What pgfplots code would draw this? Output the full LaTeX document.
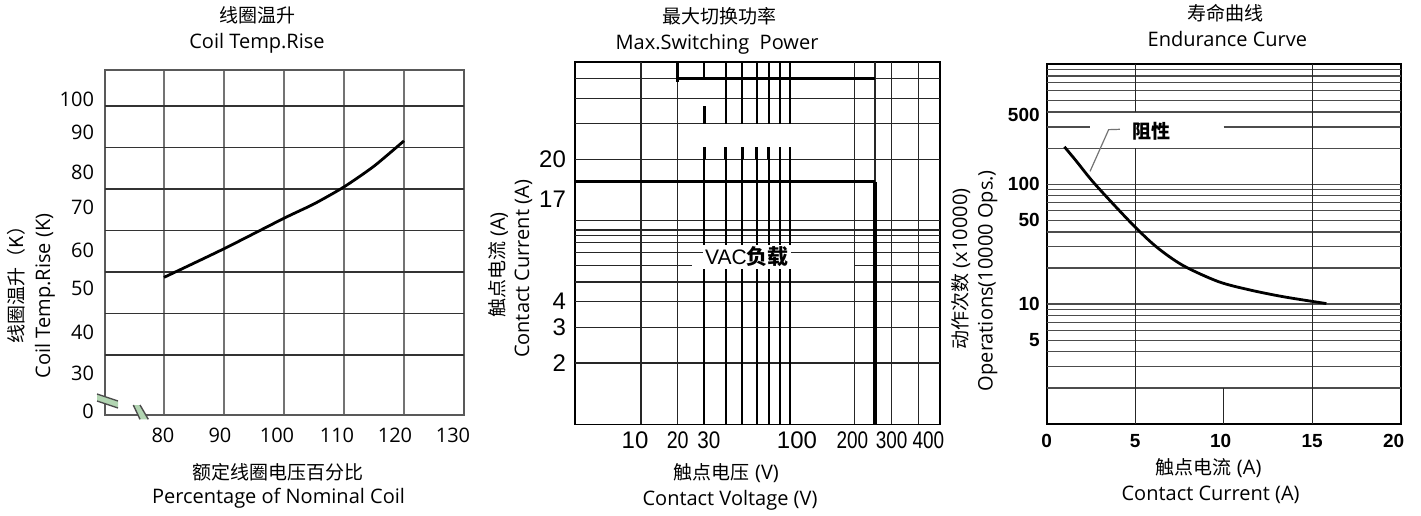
\documentclass[border=0pt]{standalone}
\usepackage{fontspec}
\usepackage{graphicx}
\usepackage{pgfplots}
\pgfplotsset{compat=1.18}
\setmainfont{Open Sans}
\newfontfamily\cjk{Noto Sans CJK SC}
\newfontfamily\arial{Liberation Sans}
\newcommand\sh[2]{\hspace*{#1}#2\hspace*{-#1}}
\newcommand\rb[2]{\raisebox{#1}[\height][\depth]{#2}}
\newcommand\ten{\fontsize{10}{12}\selectfont}
\newcommand\cj{\cjk\fontsize{9.5}{11}\selectfont}
\pgfplotsset{gl/.style={black!85, line width=0.6pt, forget plot},
  vg/.style={black, line width=1pt, forget plot},
  thk/.style={black, line width=1.3pt, forget plot}}
\begin{document}
\begin{tikzpicture}
\path[use as bounding box] (0,0) rectangle (710.5pt,257.5pt);
% ---------------- Panel 1 ----------------
\begin{axis}[at={(52.5pt,50pt)}, anchor=south west, scale only axis,
  width=179.5pt, height=172.5pt,
  xmin=70.17, xmax=130, ymin=25.54, ymax=108.67,
  axis line style={black!65, line width=0.9pt},
  major tick length=0,
  xmajorgrids, major grid style={black!55, line width=0.9pt},
  xtick={80,90,100,110,120,130},
  xticklabels={\sh{-0.5pt}{80},\sh{-2pt}{90},\sh{-3.5pt}{100},\sh{-3.5pt}{110},\sh{-4.5pt}{120},\sh{-5.5pt}{130}},
  ytick={25.54,30,40,50,60,70,80,90,100},
  yticklabels={\rb{2pt}{0},\rb{11.75pt}{30},\rb{11.5pt}{40},\rb{12.75pt}{50},\rb{11pt}{60},\rb{11.75pt}{70},\rb{8.5pt}{80},\rb{7.75pt}{90},\rb{3.5pt}{100}},
  extra y ticks={40,50,60,70,80,90,100}, extra y tick labels={},
  extra y tick style={grid=major, major grid style={black!80, line width=0.9pt}},
  tick label style={font=\ten},
  xticklabel style={yshift=-3pt},
  yticklabel style={xshift=-2pt},
]
\addplot[black, line width=1.4pt, smooth, tension=0.4] coordinates
  {(80,58.7) (90,65.6) (100,72.95) (105,76.4) (110,80.5) (115,85.5) (120,91.6)};
\end{axis}
% axis break marks
\fill[green!45!black!30!white] (48.5pt,60.5pt) -- (59pt,57pt) -- (59pt,53.5pt) -- (48.5pt,57pt) -- cycle;
\draw[black!70, line width=0.7pt] (48.5pt,60.5pt) -- (59pt,57pt) (48.5pt,57pt) -- (59pt,53.5pt);
\fill[green!45!black!30!white] (66.65pt,55pt) -- (70pt,55pt) -- (74.15pt,47.85pt) -- (70pt,47.85pt) -- cycle;
\draw[black!70, line width=0.7pt] (66.65pt,55pt) -- (70pt,47.85pt) (70pt,55pt) -- (74.15pt,47.85pt);
\node[font=\cj, inner sep=0] at (128.5pt,250pt) {线圈温升};
\node[font=\ten, inner sep=0] at (128.5pt,236pt) {Coil Temp.Rise};
\node[font=\cj, inner sep=0] at (139pt,21.5pt) {额定线圈电压百分比};
\node[font=\ten, inner sep=0] at (139.25pt,8.5pt) {Percentage of Nominal Coil};
\node[font=\cj, inner sep=0, rotate=90] at (8pt,117.5pt) {线圈温升（K）};
\node[font=\ten, inner sep=0, rotate=90] at (22.5pt,109.5pt) {Coil Temp.Rise (K)};
% ---------------- Panel 2 ----------------
\begin{axis}[at={(287.5pt,45.35pt)}, anchor=south west, scale only axis,
  width=182.5pt, height=181pt,
  x coord trafo/.code={\pgfmathparse{ln(#1)*0.4342945}\let\vL\pgfmathresult
    \pgfmathparse{max(0,min(\vL-0.47712,0.52288))*126.22
     +max(0,min(\vL-1,0.30103))*121.92
     +max(0,min(\vL-1.30103,0.17609))*151.06
     +max(0,min(\vL-1.47712,0.12494))*171.28
     +max(0,min(\vL-1.60206,0.09691))*171.29
     +max(0,min(\vL-1.69897,0.07918))*181.86
     +max(0,min(\vL-1.77815,0.06695))*179.24
     +max(0,min(\vL-1.84510,0.05799))*194.86
     +max(0,min(\vL-1.90309,0.05115))*195.50
     +max(0,min(\vL-1.95424,0.04576))*196.68
     +max(0,min(\vL-2,0.30103))*183.70
     +max(0,min(\vL-2.30103,0.09691))*213.60
     +max(0,min(\vL-2.39794,0.07918))*210.91
     +max(0,min(\vL-2.47712,0.12494))*212.90
     +max(0,min(\vL-2.60206,0.09691))*223.92}},
  xmin=3, xmax=500, ymode=log, ymin=1, ymax=60,
  axis line style={black, line width=0.8pt},
  major tick length=0,
  xtick={10,20,30,100,200,300,400},
  xticklabels={\sh{-3pt}{10},\scalebox{0.82}[1]{20},\sh{2.3pt}{\scalebox{0.86}[1]{30}},\sh{-1pt}{100},\sh{-1pt}{\scalebox{0.79}[1]{200}},\scalebox{0.79}[1]{300},\sh{5pt}{\scalebox{0.79}[1]{400}}},
  ytick={2,3,4,15.5,20},
  yticklabels={2,3,4,\rb{-8.7pt}{17},20},
  extra x ticks={10,20,200,250,300,400}, extra x tick labels={},
  extra x tick style={grid=major},
  extra y ticks={2,3,4,5,7,7.82,8.44,9,10,20,30,40,50}, extra y tick labels={},
  extra y tick style={grid=major},
  major grid style={black!85, line width=0.6pt},
  tick label style={font=\arial\fontsize{12}{12}\selectfont},
  yticklabel style={xshift=-1pt},
]
\addplot[gl] coordinates {(3,6) (25,6)};
\addplot[gl] coordinates {(200,6) (500,6)};
\addplot[vg] coordinates {(30,1) (30,20)};
\addplot[vg] coordinates {(40,1) (40,20)};
\addplot[vg] coordinates {(50,1) (50,20)};
\addplot[vg] coordinates {(60,1) (60,20)};
\addplot[vg] coordinates {(70,1) (70,20)};
\addplot[vg] coordinates {(80,1) (80,20)};
\addplot[vg] coordinates {(90,1) (90,20)};
\addplot[vg] coordinates {(30,50) (30,60)};
\addplot[vg] coordinates {(40,30) (40,60)};
\addplot[vg] coordinates {(50,30) (50,60)};
\addplot[vg] coordinates {(60,30) (60,60)};
\addplot[vg] coordinates {(70,30) (70,60)};
\addplot[vg] coordinates {(80,30) (80,60)};
\addplot[vg] coordinates {(90,30) (90,60)};
\addplot[thk] coordinates {(30,20) (30,23)};
\addplot[thk] coordinates {(40,20) (40,23)};
\addplot[thk] coordinates {(50,20) (50,23)};
\addplot[thk] coordinates {(60,20) (60,23)};
\addplot[thk] coordinates {(70,20) (70,23)};
\addplot[thk] coordinates {(80,20) (80,23)};
\addplot[thk] coordinates {(90,20) (90,23)};
\addplot[thk] coordinates {(30,30) (30,36.5)};
\addplot[black, line width=1.5pt] coordinates {(3,15.5) (251,15.5)};
\addplot[black, line width=2.1pt] coordinates {(250,15.5) (250,1)};
\addplot[black, line width=1.3pt] coordinates {(20,60) (20,48)};
\addplot[black, line width=1.3pt] coordinates {(20,50) (250,50)};
\end{axis}
\node[fill=white, inner sep=1pt, font=\arial\fontsize{10.5}{12}\selectfont] at (373.5pt,129pt) {VAC{\cjk\bfseries 负载}};
\node[font=\cj, inner sep=0] at (359.5pt,249.2pt) {最大切换功率};
\node[font=\ten, inner sep=0] at (358.5pt,235.3pt) {Max.Switching~~Power};
\node[inner sep=0] at (363.2pt,20.8pt) {{\cj 触点电压}\ten\ (V)};
\node[font=\ten, inner sep=0] at (365pt,7.5pt) {Contact Voltage (V)};
\node[inner sep=0, rotate=90] at (249.2pt,125pt) {{\cj 触点电流}\ten\ (A)};
\node[font=\ten, inner sep=0, rotate=90] at (261.7pt,123pt) {Contact Current (A)};
% ---------------- Panel 3 ----------------
\begin{axis}[at={(523.35pt,45.5pt)}, anchor=south west, scale only axis,
  width=177pt, height=179.85pt,
  xmin=0, xmax=20, ymode=log, ymin=1, ymax=1000,
  axis line style={black, line width=0.8pt},
  major tick length=0,
  xtick={0,5,10,15,20},
  xticklabels={0,5,\sh{-1.5pt}{10},15,\sh{-3.5pt}{20}},
  ytick={5,10,50,100,500},
  yticklabels={5,10,50,100,\rb{-7.5pt}{500}},
  extra y ticks={2,3,4,5,6,7,8,9,10,20,30,40,50,60,70,80,90,100,200,400,500,600,700,800,900},
  extra y tick labels={},
  extra y tick style={grid=major},
  major grid style={black!70, line width=0.6pt},
  tick label style={font=\arial\bfseries\fontsize{9.5}{10}\selectfont},
  xticklabel style={yshift=-1.7pt},
]
\addplot[gl, black!70] coordinates {(0,300) (2.45,300)};
\addplot[gl, black!70] coordinates {(10,300) (20,300)};
\addplot[gl] coordinates {(5,1) (5,200)};
\addplot[gl] coordinates {(5,400) (5,1000)};
\addplot[gl] coordinates {(10,1) (10,2)};
\addplot[gl] coordinates {(15,1) (15,1000)};
\addplot[black!55, line width=0.6pt] coordinates {(4.14,287) (3.5,285) (2.45,128)};
\addplot[black, line width=1.4pt, smooth, tension=0.5] coordinates
  {(1,205) (1.64,158) (2.73,100) (4.8,47) (6.2,30) (7.7,21) (9.7,15.4) (11.5,13.1) (13.4,11.5) (15.8,10.1)};
\end{axis}
\node[font=\cj\bfseries, inner sep=0] at (575.5pt,192pt) {阻性};
\node[font=\cj, inner sep=0] at (612.7pt,250.8pt) {寿命曲线};
\node[font=\ten, inner sep=0] at (613.7pt,237.8pt) {Endurance Curve};
\node[inner sep=0] at (604.3pt,23.3pt) {{\cj 触点电流}\ten\ (A)};
\node[font=\ten, inner sep=0] at (605.3pt,10pt) {Contact Current (A)};
\node[inner sep=0, rotate=90] at (480.3pt,123pt) {{\cj 动作次数}\ten\ (x10000)};
\node[font=\ten, inner sep=0, rotate=90] at (493.8pt,117.2pt) {Operations(10000 Ops.)};
\end{tikzpicture}
\end{document}
